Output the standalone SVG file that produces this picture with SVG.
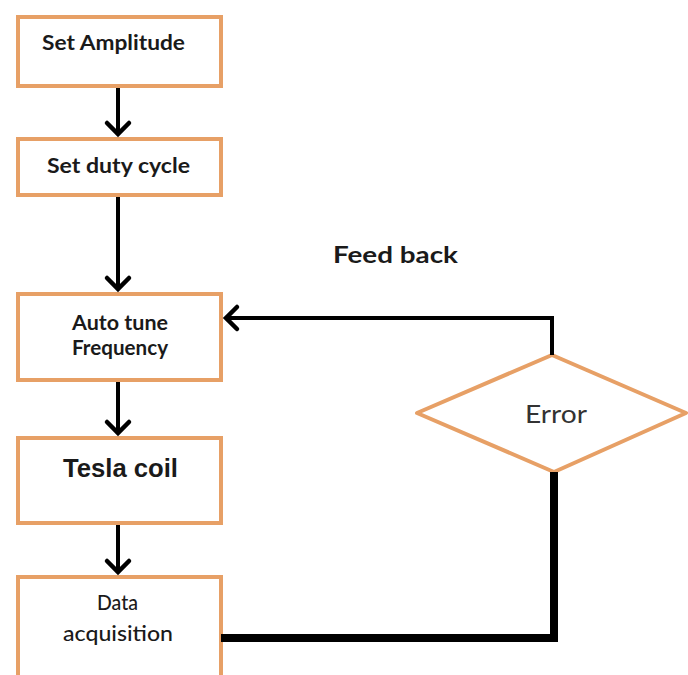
<svg xmlns="http://www.w3.org/2000/svg" width="688" height="675" viewBox="0 0 688 675">
<defs>
<style>
.box{fill:#fff;stroke:#E7A066;stroke-width:4}
.t{font-family:Lato,"Open Sans","Liberation Sans",sans-serif;fill:#1a1a1a}
.b{font-weight:700}
.conn{fill:none;stroke:#000;stroke-width:4}
</style>
<marker id="ah" markerUnits="userSpaceOnUse" markerWidth="30" markerHeight="30" viewBox="-16 -15 20 30" refX="0" refY="0" orient="auto">
<path d="M -11 -11 L 0 0 L -11 11" fill="none" stroke="#000" stroke-width="4.5" stroke-linecap="round" stroke-linejoin="miter"/>
</marker>
</defs>
<rect width="688" height="675" fill="#fff"/>
<g id="n1"><rect class="box" x="18" y="17" width="203" height="69"/><text class="t b" x="42" y="50" font-size="21" textLength="143" lengthAdjust="spacingAndGlyphs">Set Amplitude</text></g>
<g id="n2"><rect class="box" x="18" y="139" width="203" height="56"/><text class="t b" x="47" y="173" font-size="21.5" textLength="143" lengthAdjust="spacingAndGlyphs">Set duty cycle</text></g>
<g id="n3"><rect class="box" x="18" y="294" width="203" height="86"/><text class="t b" x="72" y="330" font-size="20" textLength="96" lengthAdjust="spacingAndGlyphs">Auto tune</text><text class="t b" x="72" y="355" font-size="20" textLength="96" lengthAdjust="spacingAndGlyphs">Frequency</text></g>
<g id="n4"><rect class="box" x="18" y="438" width="203" height="85"/><text x="63" y="477" font-family="'Liberation Sans',Arial,sans-serif" font-weight="700" font-size="25" fill="#1a1a1a" textLength="115" lengthAdjust="spacingAndGlyphs">Tesla coil</text></g>
<g id="n5"><rect class="box" x="18" y="577" width="203" height="110"/><text class="t" x="97" y="610" font-size="21" font-weight="500" textLength="41" lengthAdjust="spacingAndGlyphs">Data</text><text class="t" x="63" y="641" font-size="21" font-weight="500" textLength="110" lengthAdjust="spacingAndGlyphs">acquisition</text></g>
<g id="n6"><polygon points="552,355 686,413 554,472 417,413" fill="#fff" stroke="#E7A066" stroke-width="4" stroke-linejoin="round"/><text class="t" x="525" y="423" font-size="25" style="fill:#333" textLength="62" lengthAdjust="spacingAndGlyphs">Error</text></g>
<text class="t b" x="333" y="263" font-size="22" textLength="125" lengthAdjust="spacingAndGlyphs">Feed back</text>
<g id="connectors">
<path class="conn" d="M118 88 V134" marker-end="url(#ah)"/>
<path class="conn" d="M118 197 V289" marker-end="url(#ah)"/>
<path class="conn" d="M118 382 V433" marker-end="url(#ah)"/>
<path class="conn" d="M118 525 V572" marker-end="url(#ah)"/>
<path class="conn" d="M552 355 V318 H226" marker-end="url(#ah)"/>
<path d="M554 472 V638 H221" fill="none" stroke="#000" stroke-width="8"/>
</g>
</svg>
